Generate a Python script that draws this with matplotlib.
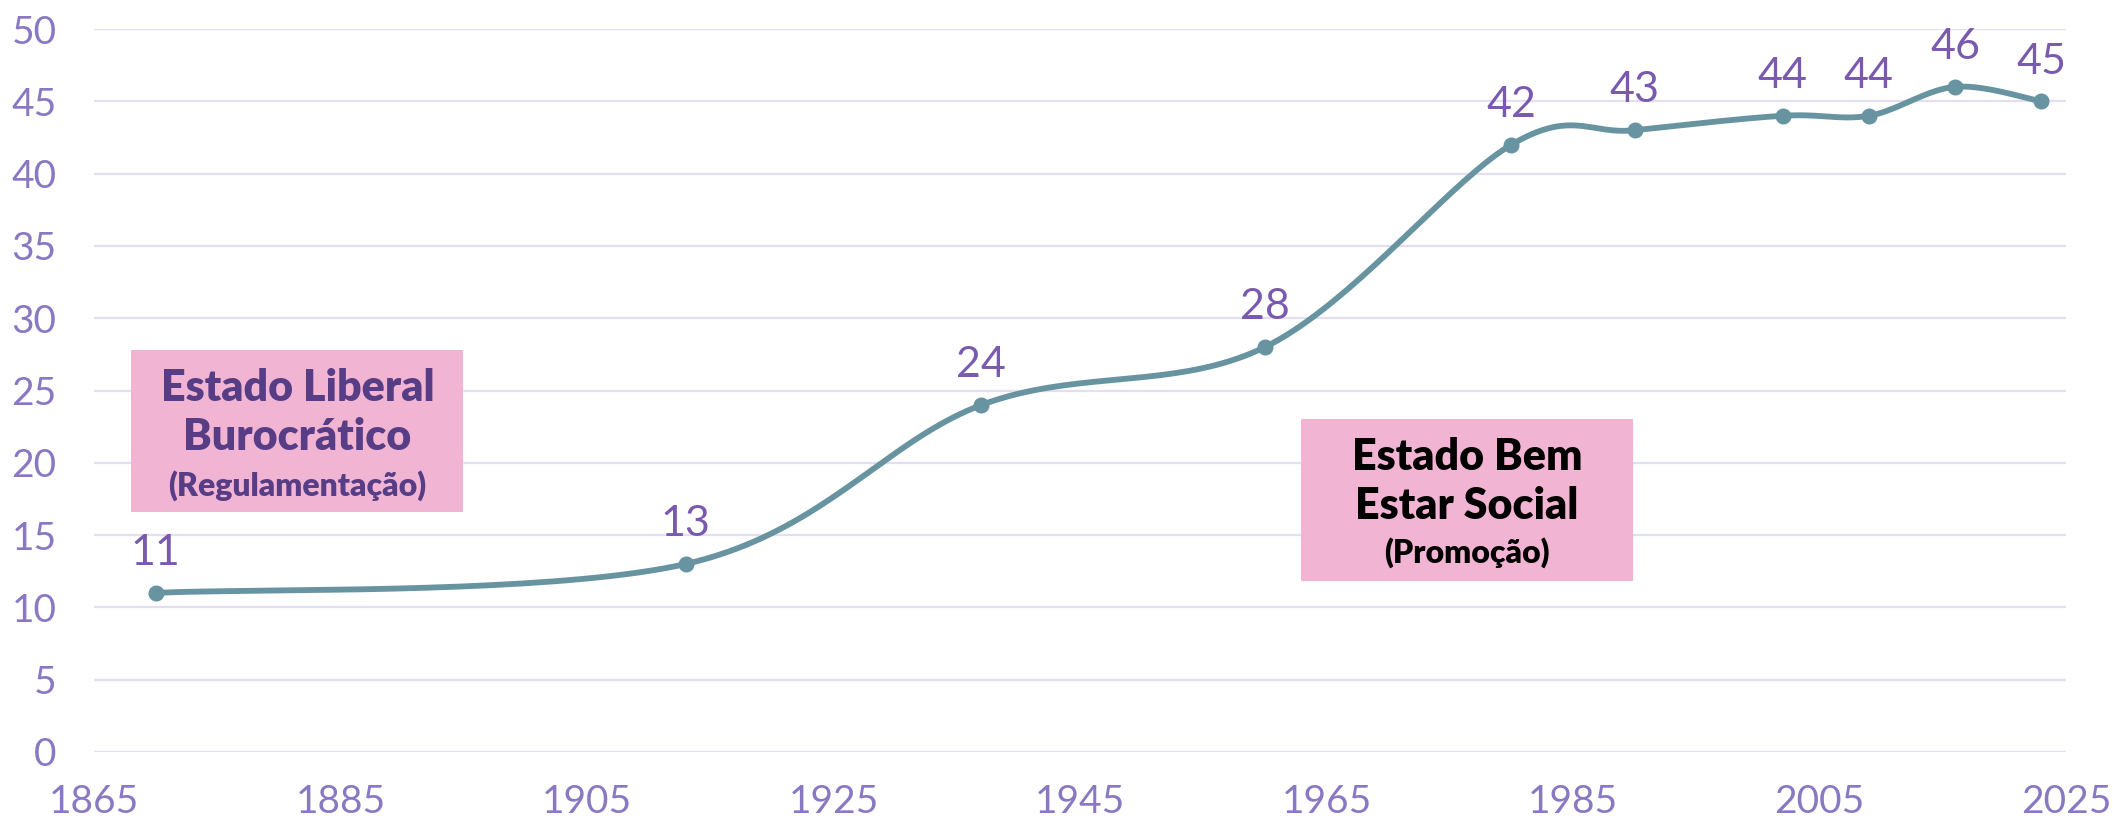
import matplotlib.pyplot as plt
import numpy as np

years = [1870, 1913, 1937, 1960, 1980, 1990, 2002, 2009, 2016, 2023]
values = [11, 13, 24, 28, 42, 43, 44, 44, 46, 45]
x_ticks = [1865, 1885, 1905, 1925, 1945, 1965, 1985, 2005, 2025]
y_ticks = [0, 5, 10, 15, 20, 25, 30, 35, 40, 45, 50]

line_color = '#6794A0'
tick_color = '#8B78C2'
label_color = '#7A5AAE'
box_color = '#F2B4D3'
grid_color = '#E3DFF0'

plt.rcParams['font.family'] = ['Lato', 'DejaVu Sans']


def smooth_line(xs, ys, steps=40):
    # excel style smoothed line: catmull-rom as cubic bezier segments
    pts = np.column_stack([xs, ys]).astype(float)
    pts = np.vstack([pts[0], pts, pts[-1]])
    out = []
    t = np.linspace(0, 1, steps)[:, None]
    for i in range(1, len(pts) - 2):
        p0, p1, p2, p3 = pts[i - 1], pts[i], pts[i + 1], pts[i + 2]
        c1 = p1 + (p2 - p0) / 6
        c2 = p2 - (p3 - p1) / 6
        seg = ((1 - t) ** 3) * p1 + 3 * ((1 - t) ** 2) * t * c1 + 3 * (1 - t) * t ** 2 * c2 + t ** 3 * p2
        out.append(seg)
    out = np.vstack(out)
    return out[:, 0], out[:, 1]


fig = plt.figure(figsize=(21.13, 8.24), dpi=100)
ax = fig.add_axes([94 / 2113, 72 / 824, 1972 / 2113, 723 / 824])

sx, sy = smooth_line(years, values)
ax.plot(sx, sy, color=line_color, lw=4.2, solid_capstyle='round', zorder=3)
ax.plot(years, values, 'o', color=line_color, ms=10.5, zorder=4)

for yr, v in zip(years, values):
    ax.annotate(str(v), (yr, v), xytext=(0, 20), textcoords='offset points',
                ha='center', va='baseline', fontsize=31, color=label_color, zorder=5)

ax.set_xlim(1865, 2025)
ax.set_ylim(0, 50)
ax.set_xticks(x_ticks)
ax.set_yticks(y_ticks)
ax.tick_params(axis='both', length=0, labelsize=28, labelcolor=tick_color)
ax.tick_params(axis='y', pad=27)
ax.tick_params(axis='x', pad=23)
ax.grid(axis='y', color=grid_color, lw=1.6)
ax.set_axisbelow(True)
for s in ax.spines.values():
    s.set_visible(False)

# annotation boxes
ax.add_patch(plt.Rectangle((1868.0, 16.6), 26.9, 11.2, facecolor=box_color,
                           edgecolor='none', zorder=2))
ax.text(1881.5, 25.2, 'Estado Liberal', ha='center', va='center', fontsize=31,
        fontweight='heavy', color='#563D85', zorder=6)
ax.text(1881.5, 21.8, 'Burocrático', ha='center', va='center', fontsize=31,
        fontweight='heavy', color='#563D85', zorder=6)
ax.text(1881.5, 18.4, '(Regulamentação)', ha='center', va='center', fontsize=23,
        fontweight='heavy', color='#563D85', zorder=6)

ax.add_patch(plt.Rectangle((1962.9, 11.8), 27.0, 11.2, facecolor=box_color,
                           edgecolor='none', zorder=2))
ax.text(1976.4, 20.4, 'Estado Bem', ha='center', va='center', fontsize=31,
        fontweight='heavy', color='black', zorder=6)
ax.text(1976.4, 17.0, 'Estar Social', ha='center', va='center', fontsize=31,
        fontweight='heavy', color='black', zorder=6)
ax.text(1976.4, 13.8, '(Promoção)', ha='center', va='center', fontsize=23,
        fontweight='heavy', color='black', zorder=6)

fig.savefig('out.png', dpi=100)
